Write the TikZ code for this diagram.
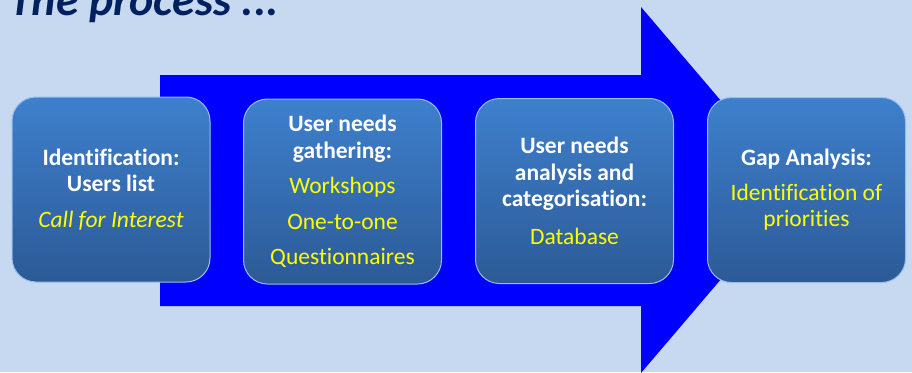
\documentclass[tikz,border=0pt]{standalone}
\usepackage{fontspec}
\setmainfont{Carlito}[Ligatures=NoCommon]
\definecolor{bg}{RGB}{198,217,240}
\definecolor{arrowblue}{RGB}{0,0,255}
\definecolor{boxtop}{RGB}{62,128,205}
\definecolor{boxbot}{RGB}{44,90,150}
\definecolor{boxedge}{RGB}{150,190,235}
\definecolor{titlecol}{RGB}{0,32,96}
\definecolor{ylw}{RGB}{255,255,0}
\tikzset{
  stagebox/.style={rectangle, rounded corners=24pt, minimum width=198pt, minimum height=185pt,
    top color=boxtop, bottom color=boxbot, draw=boxedge, line width=1pt,
    text=white, align=center, inner sep=0pt,
    font=\fontsize{23.5}{26.5}\selectfont},
  bigarrow/.style={fill=arrowblue, draw=none}
}
\newcommand{\hd}[1]{\textbf{#1}}
\newcommand{\yl}[1]{\textcolor{ylw}{#1}}
\begin{document}
\begin{tikzpicture}[x=1pt,y=-1pt]
\fill[bg] (0,0) rectangle (912,372);
\useasboundingbox (0,0) rectangle (912,372);
\node[anchor=base west, text=titlecol, inner sep=0pt, font=\fontsize{46}{50}\selectfont\bfseries\itshape] (title) at (9,15) {The process ...};
\path[bigarrow] (160,75) -- (641,75) -- (641,7) -- (797,190) -- (641,373) -- (641,306) -- (160,306) -- cycle;
\node[stagebox] (b1) at (111,189.5) {\hd{Identification:}\\\hd{Users list}\\[9pt]\yl{\itshape Call for Interest}};
\node[stagebox] (b2) at (342.5,191.5) {\hd{User needs}\\\hd{gathering:}\\[9pt]\yl{Workshops}\\[9pt]\yl{One-to-one}\\[9pt]\yl{Questionnaires}};
\node[stagebox] (b3) at (574.5,191) {\hd{User needs}\\\hd{analysis and}\\\hd{categorisation:}\\[11pt]\yl{Database}};
\node[stagebox] (b4) at (806.5,190) {\hd{Gap Analysis:}\\[8pt]\yl{Identification of}\\\yl{priorities}};
\end{tikzpicture}
\end{document}
